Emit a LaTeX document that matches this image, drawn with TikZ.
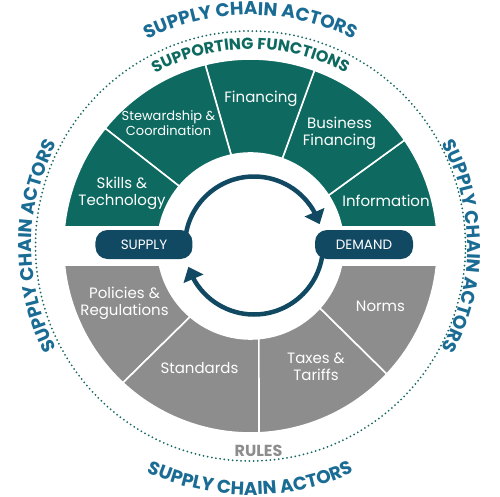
\documentclass[tikz,border=0pt]{standalone}
\usepackage{fontspec}
\setmainfont{Poppins}
\usetikzlibrary{arrows.meta,bending,decorations.text}

\definecolor{fnteal}{RGB}{14,106,96}
\definecolor{rulegray}{RGB}{141,141,141}
\definecolor{hubnavy}{RGB}{17,73,99}
\definecolor{actorblue}{RGB}{26,108,148}
\definecolor{dotteal}{RGB}{22,104,98}

\newcommand{\actorfont}{\fontsize{18.5}{20}\selectfont\bfseries\color{actorblue}}
% one piece of the ring: outer from/to angle, inner from/to angle
\newcommand{\segpiece}[5]{%
  \filldraw[#1, draw=white, line width=1.6pt] (#2:187) arc[start angle=#2, end angle=#3, radius=187pt]
    -- (#4:93) arc[start angle=#4, end angle=#5, radius=93pt] -- cycle;}

\tikzset{
  seglabel/.style={text=white, align=center, font=\fontsize{15}{17}\selectfont},
  pill/.style={fill=hubnavy, rounded corners=12pt, minimum width=97pt, minimum height=29pt,
    text=white, font=\fontsize{13.5}{15}\selectfont},
  cycleflow/.style={hubnavy, line width=4.5pt, -{Triangle[width=21pt,length=13pt]}},
}

\begin{document}
\begin{tikzpicture}[x=1pt,y=1pt]
  \useasboundingbox (-250.5,-250) rectangle (249.5,246);
  % Supporting functions
  \segpiece{fnteal}{5.83}{34.5}{33}{11.79}
  \segpiece{fnteal}{34.5}{70}{70}{33}
  \segpiece{fnteal}{70}{104}{102}{70}
  \segpiece{fnteal}{104}{141}{140}{102}
  \segpiece{fnteal}{141}{174.17}{168.21}{140}
  % Rules
  \segpiece{rulegray}{185.83}{227}{229.5}{191.79}
  \segpiece{rulegray}{227}{272.6}{275.2}{229.5}
  \segpiece{rulegray}{272.6}{316.8}{318.2}{275.2}
  \segpiece{rulegray}{316.8}{354.17}{348.21}{318.2}
  % Dotted ring
  \draw[dotteal, line width=2pt, line cap=round, dash pattern=on 0pt off 4.2pt] (0,0) circle[radius=215pt];
  % Labels
  \node (skills) [seglabel] at (-128.5, 53) {Skills \&\\Technology};
  \node (steward) [seglabel, font=\fontsize{13}{14.5}\selectfont] at (-82, 123) {Stewardship \&\\Coordination};
  \node (fin) [seglabel] at (10.5, 147) {Financing};
  \node (bizfin) [seglabel] at (89, 113) {Business\\Financing};
  \node (info) [seglabel] at (135.5, 45) {Information};
  \node (policies) [seglabel] at (-126, -57) {Policies \&\\Regulations};
  \node (standards) [seglabel] at (-51, -122) {Standards};
  \node (taxes) [seglabel] at (65.5, -121) {Taxes \&\\Tariffs};
  \node (norms) [seglabel] at (130, -60) {Norms};
  % Arrows
  \coordinate (hub) at (3.5, 0.5);
  \draw[cycleflow] ([shift={(180:69)}]hub) arc[start angle=180, end angle=18, radius=69pt];
  \draw[cycleflow] ([shift={(0:69)}]hub) arc[start angle=0, end angle=-162, radius=69pt];
  \node (supply) [pill] at (-106.5, 1.5) {SUPPLY};
  \node (demand) [pill, minimum width=98pt] at (113.5, 1.5) {DEMAND};
  % Ring titles
  \path[decorate, decoration={text along path, text align=center,
    text={|\fontsize{16}{18}\selectfont\bfseries\color{fnteal}|SUPPORTING FUNCTIONS}}]
    (150:197) arc[start angle=150, end angle=30, radius=197pt];
  \node (rules) [font=\fontsize{16}{18}\selectfont\bfseries, text=rulegray] at (8, -205) {RULES};
  % Actors
  \path[decorate, decoration={text along path, text align=center, text={|\actorfont|SUPPLY CHAIN ACTORS}}]
    (150:231) arc[start angle=150, end angle=30, radius=231pt];
  \path[decorate, decoration={text along path, text align=center, text={|\actorfont|SUPPLY CHAIN ACTORS}}]
    (240:219) arc[start angle=240, end angle=120, radius=219pt];
  \path[decorate, decoration={text along path, text align=center, text={|\actorfont|SUPPLY CHAIN ACTORS}}]
    (60:217) arc[start angle=60, end angle=-60, radius=217pt];
  \path[decorate, decoration={text along path, text align=center, text={|\actorfont|SUPPLY CHAIN ACTORS}}]
    (210:249) arc[start angle=210, end angle=330, radius=249pt];
\end{tikzpicture}
\end{document}
